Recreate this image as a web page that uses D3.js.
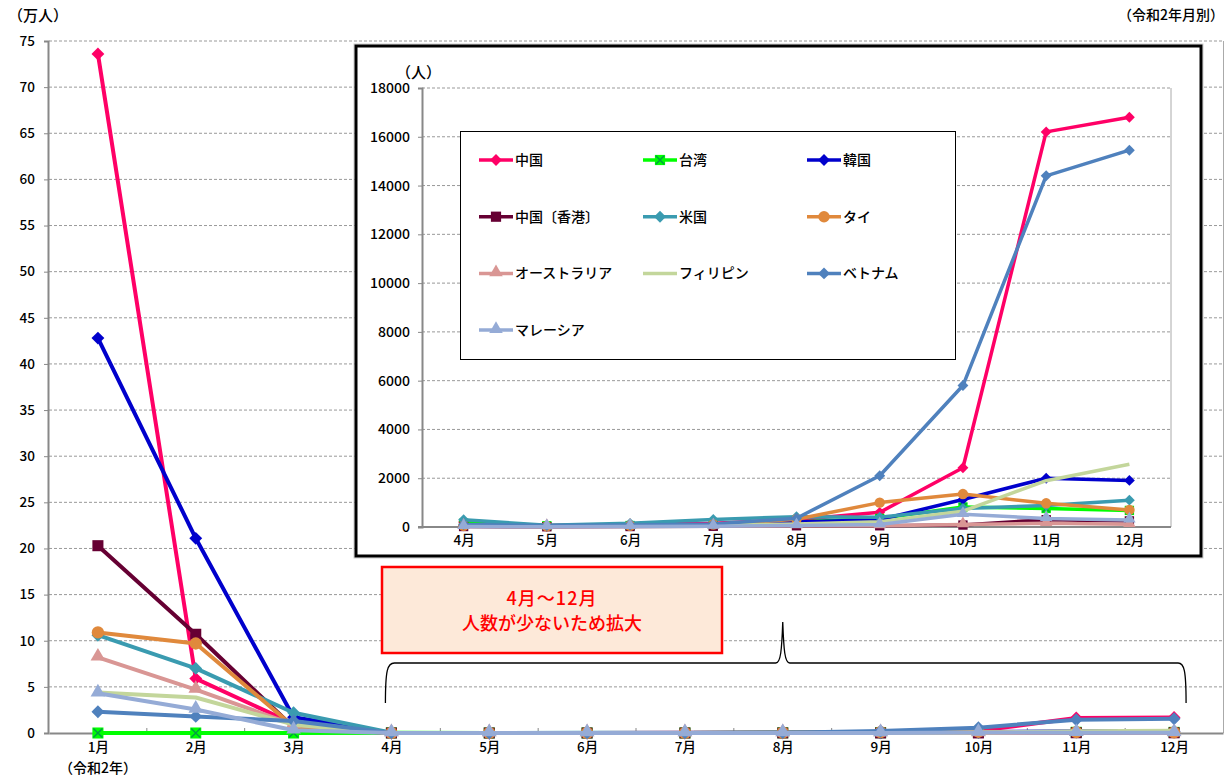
<!DOCTYPE html>
<html>
<head>
<meta charset="utf-8">
<script src="https://cdn.jsdelivr.net/npm/d3@7"></script>
<style>
  body { margin: 0; background: #fff; }
  text { font-family: "Noto Sans CJK JP", "Noto Sans", sans-serif; font-weight: 500; }
</style>
</head>
<body>
<script>
// 訪日外客数（令和2年月別）, unit: 人
var months = ["1月","2月","3月","4月","5月","6月","7月","8月","9月","10月","11月","12月"];
var insetMonths = months.slice(3);

var china       = [736000, 59000, 10000, 200,  60, 100, 150, 300,  600, 2430, 16200, 16800];
var taiwan      = [     0,     0,     0, 150,  50,  60,  80, 200,  350,  820,   760,   680];
var korea       = [428000,211000, 17000,  50,  30,  50,  80, 200,  300, 1130,  2000,  1910];
var hongkong    = [203000,107000,  6000,  20,  10,  20,  30,  50,   50,   80,   300,   250];
var usa         = [106000, 70000, 22000, 300,  70, 150, 310, 420,  400,  760,   880,  1100];
var thai        = [109000, 97000,  7000,  50,  30,  50, 100, 320, 1000, 1350,   970,   700];
var australia   = [ 82000, 47000,  9000,  30,  20,  30,  40,  50,   50,  100,   150,   110];
var philippines = [ 44000, 38500,  9000,  50,  30,  50,  80, 120,  220,  650,  1900,  2570];
var vietnam     = [ 23000, 18000, 13000, 100,  60,  80, 120, 360, 2100, 5800, 14400, 15450];
var malaysia    = [ 43000, 25500,  3000,  20,  10,  20,  30,  60,  100,  520,   350,   290];

var mainTicks  = d3.range(0, 76, 5);
var insetTicks = d3.range(0, 18001, 2000);

var series = [
  {name:"中国",         values:china,       color:"#FF0066", marker:"diamond"},
  {name:"台湾",         values:taiwan,      color:"#00FF00", marker:"squareX"},
  {name:"韓国",         values:korea,       color:"#0000CC", marker:"diamond"},
  {name:"中国〔香港〕", values:hongkong,    color:"#660033", marker:"square"},
  {name:"米国",         values:usa,         color:"#3A9BB0", marker:"diamond"},
  {name:"タイ",         values:thai,        color:"#E0893C", marker:"circle"},
  {name:"オーストラリア", values:australia, color:"#D99694", marker:"triangle"},
  {name:"フィリピン",   values:philippines, color:"#C3D69B", marker:null},
  {name:"ベトナム",     values:vietnam,     color:"#4F81BD", marker:"diamond"},
  {name:"マレーシア",   values:malaysia,    color:"#95ABD6", marker:"triangle"}
];

var W = 1231, H = 780;
var svg = d3.select("body").append("svg").attr("width", W).attr("height", H);
svg.append("rect").attr("width", W).attr("height", H).attr("fill", "#fff");

function marker(g, type, color, cx, cy, s){
  if(!type) return;
  if(type=="diamond"){
    g.append("rect").attr("x", cx-s*0.7).attr("y", cy-s*0.7).attr("width", s*1.4).attr("height", s*1.4)
      .attr("transform", "rotate(45," + cx + "," + cy + ")").attr("fill", color);
  } else if(type=="square" || type=="squareX"){
    g.append("rect").attr("x", cx-s*0.85).attr("y", cy-s*0.85).attr("width", s*1.7).attr("height", s*1.7)
      .attr("fill", color);
    if(type=="squareX"){
      var k = s*0.7;
      g.append("path").attr("d", "M"+(cx-k)+","+(cy-k)+"L"+(cx+k)+","+(cy+k)+"M"+(cx+k)+","+(cy-k)+"L"+(cx-k)+","+(cy+k))
        .attr("stroke", "#00A040").attr("stroke-width", 1.5);
    }
  } else if(type=="circle"){
    g.append("circle").attr("cx", cx).attr("cy", cy).attr("r", s*0.95).attr("fill", color);
  } else if(type=="triangle"){
    g.append("path").attr("d", d3.symbol(d3.symbolTriangle, s*s*2.2)())
      .attr("transform", "translate(" + cx + "," + (cy-1) + ")").attr("fill", color);
  }
}

// ---------- main chart ----------
var x = d3.scalePoint().domain(months).range([49, 1223]).padding(0.5);
var y = d3.scaleLinear().domain([0, 75]).range([733, 41]);

var grid = svg.append("g");
grid.selectAll("line").data(mainTicks.filter(function(d){return d>0;})).enter().append("line")
  .attr("x1", 49).attr("x2", 1223).attr("y1", y).attr("y2", y)
  .attr("stroke", "#999").attr("stroke-dasharray", "3,2");
svg.append("line").attr("x1", 1223.5).attr("x2", 1223.5).attr("y1", 41).attr("y2", 733)
  .attr("stroke", "#aaa");

var yAxis = svg.append("g").attr("transform", "translate(48,0)")
  .call(d3.axisLeft(y).tickValues(mainTicks).tickSize(4).tickPadding(9));
yAxis.select(".domain").attr("stroke", "#888").attr("stroke-width", 2);
yAxis.selectAll(".tick line").attr("stroke", "#888");
yAxis.selectAll(".tick text").attr("font-size", 13.5).attr("fill", "#000");

var xAxis = svg.append("g").attr("transform", "translate(0,733)")
  .call(d3.axisBottom(x).tickSize(0).tickPadding(9));
xAxis.select(".domain").attr("stroke", "#888").attr("stroke-width", 2);
xAxis.selectAll(".tick text").attr("font-size", 13.5).attr("fill", "#000");
svg.append("g").selectAll("line").data(months.slice(0, -1)).enter().append("line")
  .attr("x1", function(d){return x(d)+x.step()/2;}).attr("x2", function(d){return x(d)+x.step()/2;})
  .attr("y1", 733).attr("y2", 728).attr("stroke", "#888");

var mainLine = d3.line().x(function(d, i){return x(months[i]);}).y(function(d){return y(d/10000);});
series.forEach(function(s){
  var g = svg.append("g");
  g.append("path").attr("d", mainLine(s.values)).attr("fill", "none")
    .attr("stroke", s.color).attr("stroke-width", 4).attr("stroke-linejoin", "round");
  s.values.forEach(function(v, i){ marker(g, s.marker, s.color, x(months[i]), y(v/10000), 6.5); });
});

svg.append("text").attr("x", 8).attr("y", 21).attr("font-size", 15).attr("font-weight", "bold").text("（万人）");
svg.append("text").attr("x", 1224).attr("y", 20).attr("font-size", 14).attr("text-anchor", "end").text("（令和2年月別）");
svg.append("text").attr("x", x("1月")).attr("y", 773).attr("font-size", 14).attr("text-anchor", "middle").text("（令和2年）");

// callout box and brace
svg.append("rect").attr("x", 382).attr("y", 567).attr("width", 340).attr("height", 86)
  .attr("fill", "#FDE9D9").attr("stroke", "#FF0000").attr("stroke-width", 2.5);
svg.append("text").attr("x", 552).attr("y", 605).attr("font-size", 18).attr("fill", "#FF0000")
  .attr("text-anchor", "middle").attr("letter-spacing", 1).text("4月～12月");
svg.append("text").attr("x", 552).attr("y", 630).attr("font-size", 18).attr("fill", "#FF0000")
  .attr("text-anchor", "middle").text("人数が少ないため拡大");

var bl = x("4月") - 6, br = x("12月") + 12, bm = x("8月"), by = 663;
svg.append("path")
  .attr("d", "M" + bl + ",703 C" + bl + ",670 " + (bl+2) + "," + by + " " + (bl+9) + "," + by +
    " L" + (bm-7) + "," + by + " C" + (bm-2) + "," + by + " " + (bm-1) + ",650 " + bm + ",622" +
    " C" + (bm+1) + ",650 " + (bm+2) + "," + by + " " + (bm+7) + "," + by +
    " L" + (br-8) + "," + by + " C" + (br-2) + "," + by + " " + br + ",670 " + br + ",703")
  .attr("fill", "none").attr("stroke", "#000").attr("stroke-width", 1.3);

// ---------- inset chart (4月-12月) ----------
svg.append("rect").attr("x", 354).attr("y", 44).attr("width", 849).attr("height", 514)
  .attr("fill", "none").attr("stroke", "#ccc").attr("stroke-width", 1);
svg.append("rect").attr("x", 356).attr("y", 46).attr("width", 845).attr("height", 510)
  .attr("fill", "#fff").attr("stroke", "#000").attr("stroke-width", 3);

var x2 = d3.scalePoint().domain(insetMonths).range([422, 1171]).padding(0.5);
var y2 = d3.scaleLinear().domain([0, 18000]).range([527, 88]);

svg.append("g").selectAll("line").data(insetTicks.filter(function(d){return d>0;})).enter().append("line")
  .attr("x1", 422).attr("x2", 1171).attr("y1", y2).attr("y2", y2)
  .attr("stroke", "#999").attr("stroke-dasharray", "3,2");
svg.append("line").attr("x1", 1171).attr("x2", 1171).attr("y1", 88).attr("y2", 527).attr("stroke", "#aaa");

var y2Axis = svg.append("g").attr("transform", "translate(422,0)")
  .call(d3.axisLeft(y2).tickValues(insetTicks).tickSize(4).tickPadding(8).tickFormat(d3.format("d")));
y2Axis.select(".domain").attr("stroke", "#888").attr("stroke-width", 2);
y2Axis.selectAll(".tick line").attr("stroke", "#888");
y2Axis.selectAll(".tick text").attr("font-size", 14).attr("fill", "#000");

var x2Axis = svg.append("g").attr("transform", "translate(0,527)")
  .call(d3.axisBottom(x2).tickSize(0).tickPadding(8));
x2Axis.select(".domain").attr("stroke", "#888").attr("stroke-width", 2).attr("d", "M418,0H1171");
x2Axis.selectAll(".tick text").attr("font-size", 13.5).attr("fill", "#000");

svg.append("text").attr("x", 396).attr("y", 78).attr("font-size", 15).text("（人）");

// legend
svg.append("rect").attr("x", 460.5).attr("y", 131.5).attr("width", 495).attr("height", 228)
  .attr("fill", "#fff").attr("stroke", "#000").attr("stroke-width", 1);

var insetLine = d3.line().x(function(d, i){return x2(insetMonths[i]);}).y(function(d){return y2(d);});
series.forEach(function(s){
  var g = svg.append("g");
  g.append("path").attr("d", insetLine(s.values.slice(3))).attr("fill", "none")
    .attr("stroke", s.color).attr("stroke-width", 3.5).attr("stroke-linejoin", "round");
  s.values.slice(3).forEach(function(v, i){ marker(g, s.marker, s.color, x2(insetMonths[i]), y2(v), 5.5); });
});

series.forEach(function(s, i){
  var lx = 479 + (i % 3) * 164, ly = 160 + Math.floor(i / 3) * 56.7;
  var g = svg.append("g");
  g.append("line").attr("x1", lx).attr("x2", lx+34).attr("y1", ly).attr("y2", ly)
    .attr("stroke", s.color).attr("stroke-width", 3.5);
  marker(g, s.marker, s.color, lx+17, ly, 6);
  g.append("text").attr("x", lx+36).attr("y", ly+5).attr("font-size", 14).text(s.name);
});
</script>
</body>
</html>
